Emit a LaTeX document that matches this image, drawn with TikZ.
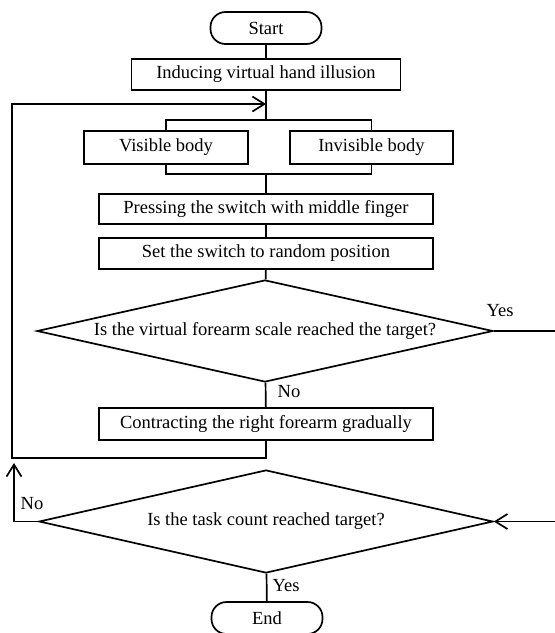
\documentclass[tikz,border=0pt]{standalone}
\usepackage{fontspec}
\setmainfont{Liberation Serif}
\usetikzlibrary{shapes.geometric, arrows.meta}
\tikzset{
  procbox/.style={draw, line width=1.7pt, minimum height=31pt, inner sep=0pt},
  termbox/.style={draw, line width=1.7pt, rounded corners=15pt, minimum width=111pt, minimum height=32pt, inner sep=0pt},
  decbox/.style={draw, diamond, line width=1.7pt, aspect=4.5, inner sep=0pt},
  lbl/.style={inner sep=0pt},
  flow/.style={line width=1.7pt},
  barb/.style={-{Straight Barb[length=12pt,width=15pt]}}
}

\begin{document}
\begin{tikzpicture}[x=1pt, y=-1pt, font=\fontsize{18.5}{22}\selectfont]
  \useasboundingbox (0,0) rectangle (555,633);
  % main column
  \node[termbox] (start) at (266,28) {Start};
  \node[procbox, minimum width=269pt] (induce) at (266,74.5) {Inducing virtual hand illusion};
  \node[procbox, minimum width=164pt, minimum height=33pt] (visible) at (166,147.5) {Visible body};
  \node[procbox, minimum width=163pt, minimum height=33pt] (invisible) at (371.5,147.5) {Invisible body};
  \node[procbox, minimum width=334pt, minimum height=30pt] (press) at (266,209) {Pressing the switch with middle finger};
  \node[procbox, minimum width=334pt] (setsw) at (266,253.5) {Set the switch to random position};
  \node[decbox, minimum width=456pt, minimum height=102pt] (reach) at (265,331) {Is the virtual forearm scale reached the target?};
  \node[procbox, minimum width=334pt, minimum height=32pt] (contract) at (266,424) {Contracting the right forearm gradually};
  \node[decbox, minimum width=454pt, minimum height=103pt] (count) at (266,521.5) {Is the task count reached target?};
  \node[termbox] (finish) at (267,618) {End};
  % branch and merge points
  \coordinate (splitc) at (266,120);
  \coordinate (splitl) at (166,120);
  \coordinate (splitr) at (371.5,120);
  \coordinate (mergec) at (266,174);
  \coordinate (mergel) at (166,174);
  \coordinate (merger) at (371.5,174);
  % loop back to the top
  \coordinate (loopbr) at (266,458);
  \coordinate (loopbl) at (12,458);
  \coordinate (looptl) at (12,104);
  \coordinate (loopin) at (266,104);
  \coordinate (noup) at (14,463);
  % cut-off ends at the right edge
  \coordinate (yesout) at (555,331);
  \coordinate (retin) at (555,521.5);

  \draw[flow] (start) -- (induce);
  \draw[flow] (induce) -- (splitc);
  \draw[flow] (visible) -- (splitl) -- (splitr) -- (invisible);
  \draw[flow] (visible) -- (mergel) -- (merger) -- (invisible);
  \draw[flow] (mergec) -- (press);
  \draw[flow] (press) -- (setsw);
  \draw[flow] (setsw) -- (reach);
  \draw[flow] (reach) -- (contract);
  \draw[flow, barb] (contract) -- (loopbr) -- (loopbl) -- (looptl) -- (loopin);
  \draw[flow] (reach.east) -- (yesout);
  \draw[flow, barb] (retin) -- (count.east);
  \draw[flow, barb] (count.west) -- (count.west -| noup) -- (noup);
  \draw[flow] (count) -- (finish);
  % labels
  \node[lbl] (yesa) at (500,311) {Yes};
  \node[lbl] (noa) at (289,392) {No};
  \node[lbl] (nob) at (32,504) {No};
  \node[lbl] (yesb) at (286,586) {Yes};
\end{tikzpicture}
\end{document}
